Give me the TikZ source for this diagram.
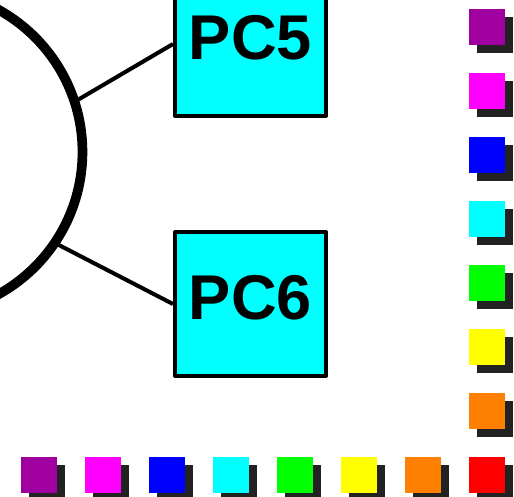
\documentclass[tikz,border=0pt]{standalone}
\usepackage{fontspec}
\setmainfont{Liberation Sans}
\usetikzlibrary{positioning,shadows}
\definecolor{pccyan}{RGB}{0,255,255}
\definecolor{swpurple}{RGB}{160,0,160}
\definecolor{swmagenta}{RGB}{255,0,255}
\definecolor{swblue}{RGB}{0,0,255}
\definecolor{swcyan}{RGB}{0,255,255}
\definecolor{swgreen}{RGB}{0,255,0}
\definecolor{swyellow}{RGB}{255,255,0}
\definecolor{sworange}{RGB}{255,128,0}
\definecolor{swred}{RGB}{255,0,0}
\definecolor{shadowgray}{RGB}{34,34,34}

\begin{document}
\begin{tikzpicture}[x=0.02cm, y=-0.02cm,
  pcnode/.style={rectangle, draw=black, line width=2.3pt, line join=round,
    fill=pccyan, minimum width=3.02cm, minimum height=2.88cm, inner sep=0pt,
    text depth=7pt, font=\fontsize{36}{36}\selectfont\bfseries},
  ringnode/.style={circle, draw=black, line width=5.5pt, minimum size=6.5cm,
    inner sep=0pt, outer sep=0pt},
  swatch/.style={rectangle, minimum size=0.72cm, inner sep=0pt,
    drop shadow={shadow xshift=0.16cm, shadow yshift=-0.16cm,
      fill=shadowgray, opacity=1}},
  link/.style={line width=2.3pt},
]
  \useasboundingbox (0,0) rectangle (514,497);
  \clip (0,0) rectangle (514,497);

  % Ring and PCs
  \node[ringnode] (ring) at (-80,152) {};
  \node[pcnode] (pc5) at (250.5,44) {PC5};
  \node[pcnode] (pc6) at (250.5,304) {PC6};

  % Links
  \draw[link] (ring.18) -- (pc5.west);
  \draw[link] (ring.-34) -- (pc6.west);

  % Colour swatches
  \foreach \col [count=\k from 0] in {swpurple,swmagenta,swblue,swcyan,swgreen,swyellow,sworange,swred}
    \node[swatch, fill=\col] (col-\k) at (487,27+64*\k) {};
  \foreach \col [count=\k from 0] in {swpurple,swmagenta,swblue,swcyan,swgreen,swyellow,sworange}
    \node[swatch, fill=\col] (row-\k) at (39+64*\k,475) {};
\end{tikzpicture}
\end{document}
